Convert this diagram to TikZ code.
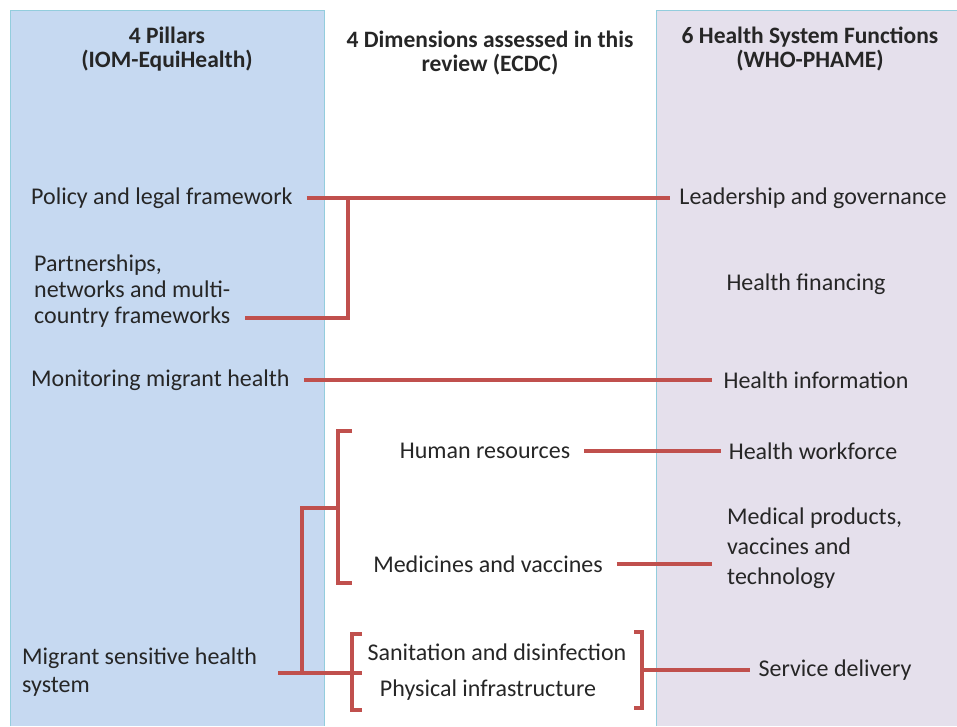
\documentclass[tikz,border=0pt]{standalone}
\usepackage{fontspec}
\setmainfont{Carlito}
\usetikzlibrary{positioning}

\definecolor{pilarfundo}{HTML}{C6D9F1}
\definecolor{funcfundo}{HTML}{E5E0EC}
\definecolor{painelborda}{HTML}{93CDDD}
\definecolor{linharubra}{HTML}{C0504D}
\definecolor{textoescuro}{HTML}{262626}

\tikzset{
  painel/.style={draw=painelborda, line width=1pt},
  titulo/.style={font=\fontsize{23.5}{24}\selectfont\bfseries, align=center, text=textoescuro, inner sep=0pt},
  rotulo/.style={inner sep=0pt, text=textoescuro},
  liga/.style={draw=linharubra, line width=3.2pt},
}

\begin{document}
\begin{tikzpicture}[x=1pt, y=-1pt, font=\fontsize{24}{28}\selectfont]

  %--------------------------------------------
  % Moldura da figura
  %--------------------------------------------
  \useasboundingbox (0,0) rectangle (957,726);

  %--------------------------------------------
  % Paineis laterais (pilares e funcoes)
  %--------------------------------------------
  \fill[pilarfundo] (10,10) rectangle (324,726);
  \draw[painel] (10,726) -- (10,10) -- (324,10) -- (324,726);
  \fill[funcfundo] (656,10) rectangle (957,726);
  \draw[painel] (656,726) -- (656,10) -- (957,10);

  %--------------------------------------------
  % Titulos das colunas
  %--------------------------------------------
  \node[titulo] (tpilar) at (167,49) {4 Pillars\\(IOM-EquiHealth)};
  \node[titulo] (tdim)   at (490,53) {4 Dimensions assessed in this\\review (ECDC)};
  \node[titulo] (tfunc)  at (810,49) {6 Health System Functions\\(WHO-PHAME)};

  %--------------------------------------------
  % Pilares (coluna da esquerda)
  %--------------------------------------------
  \node[rotulo, anchor=west] (politica) at (31,198) {Policy and legal framework};
  \node[rotulo, anchor=west, align=left] (parcerias) at (34,291)
    {Partnerships,\\[-2pt]networks and multi-\\[-2pt]country frameworks};
  \node[rotulo, anchor=west] (monitor) at (31,380) {Monitoring migrant health};
  \node[rotulo, anchor=west, align=left] (sensivel) at (22,672)
    {Migrant sensitive health\\system};

  %--------------------------------------------
  % Dimensoes (coluna do meio)
  %--------------------------------------------
  \node[rotulo] (recursos)   at (485,451) {Human resources};
  \node[rotulo] (remedios)   at (488,564) {Medicines and vaccines};
  \node[rotulo] (sanitario)  at (497,652) {Sanitation and disinfection};
  \node[rotulo] (infra)      at (488,690) {Physical infrastructure};

  %--------------------------------------------
  % Funcoes (coluna da direita)
  %--------------------------------------------
  \node[rotulo] (lideranca)  at (813,198) {Leadership and governance};
  \node[rotulo] (financas)   at (806,284) {Health financing};
  \node[rotulo] (informacao) at (816,380) {Health information};
  \node[rotulo] (forca)      at (813,451) {Health workforce};
  \node[rotulo, anchor=west, align=left] (produtos) at (727,548)
    {Medical products,\\[2pt]vaccines and\\[2pt]technology};
  \node[rotulo] (servico)    at (835,670) {Service delivery};

  %--------------------------------------------
  % Pontos de juncao das chaves
  %--------------------------------------------
  \coordinate (jpol)   at (348,198);
  \coordinate (fparc)  at (245,318);
  \coordinate (fmed)   at (712,564);
  \coordinate (ch1top) at (352,431);
  \coordinate (ch1bot) at (352,583);
  \coordinate (ch1mid) at (338,508);
  \coordinate (fsens)  at (278,673);
  \coordinate (ch2top) at (362,634);
  \coordinate (ch2bot) at (362,710);
  \coordinate (ch3top) at (634,632);
  \coordinate (ch3bot) at (634,708);
  \coordinate (ch3mid) at (642,670);

  %--------------------------------------------
  % Ligacoes diretas
  %--------------------------------------------
  \draw[liga] ([xshift=14]politica.east) -- ([xshift=-9]lideranca.west);
  \draw[liga] (fparc) -| (jpol);
  \draw[liga] ([xshift=14]monitor.east) -- ([xshift=-11]informacao.west);
  \draw[liga] ([xshift=14]recursos.east) -- ([xshift=-8]forca.west);
  \draw[liga] ([xshift=14]remedios.east) -- (fmed);

  %--------------------------------------------
  % Chaves (recursos/remedios e sanitario/infra)
  %--------------------------------------------
  \draw[liga] (ch1top) -- ++(-14,0) |- (ch1bot);
  \draw[liga] (ch1mid) -- ++(-36,0) |- (ch2top |- fsens);
  \draw[liga] (fsens) -- ++(24,0);
  \draw[liga] (ch2top) -- ++(-10,0) |- (ch2bot);
  \draw[liga] (ch3top) -- ++(8,0) |- (ch3bot);
  \draw[liga] (ch3mid) -- ([xshift=-8]servico.west);

\end{tikzpicture}
\end{document}
